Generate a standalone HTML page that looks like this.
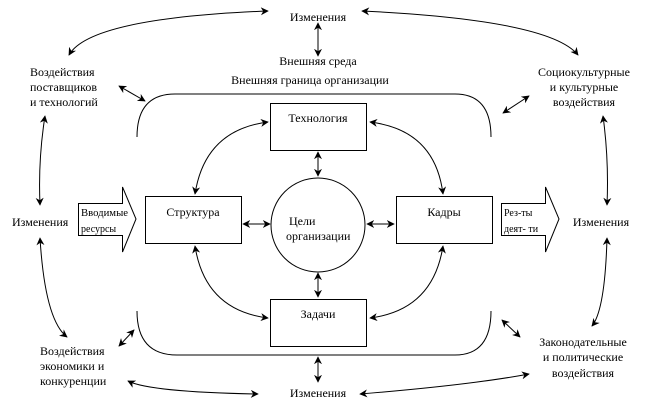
<!DOCTYPE html>
<html><head><meta charset="utf-8"><style>
html,body{margin:0;padding:0;background:#fff;}
svg{display:block;}
</style></head><body>
<svg width="647" height="408" viewBox="0 0 647 408" xmlns="http://www.w3.org/2000/svg" font-family="'Liberation Serif', 'Times New Roman', serif" font-size="12">
<defs>
<marker id="a" viewBox="0 0 10 10" refX="9" refY="5" markerWidth="8" markerHeight="8" orient="auto-start-reverse" markerUnits="userSpaceOnUse">
<path d="M0,0 L10,5 L0,10 L3,5 z" fill="#000"/>
</marker>
</defs>
<g fill="none" stroke="#000" stroke-width="1">
<path d="M137,137 Q137,94 175,94 L455,94 Q491,94 491,137"/>
<path d="M137,311 Q137,355 177,355 L455,355 Q491,355 491,311"/>
<rect x="270.5" y="103.5" width="96" height="47"/>
<rect x="145.5" y="196.5" width="96" height="47"/>
<rect x="396.5" y="196.5" width="96" height="47"/>
<rect x="270.5" y="299.5" width="96" height="47"/>
<circle cx="318" cy="225" r="47"/>
<path d="M78.5,203.5 L122.5,203.5 L122.5,187 L136,219 L122.5,252 L122.5,235.5 L78.5,235.5 Z"/>
<path d="M501.5,203.5 L545.5,203.5 L545.5,187 L559,219 L545.5,252 L545.5,235.5 L501.5,235.5 Z"/>
<g marker-start="url(#a)" marker-end="url(#a)">
<line x1="318" y1="23" x2="318" y2="56"/>
<line x1="318" y1="152" x2="318" y2="176"/>
<line x1="318" y1="273" x2="318" y2="297"/>
<line x1="318" y1="357" x2="318" y2="382"/>
<line x1="243" y1="224" x2="270" y2="224"/>
<line x1="367" y1="224" x2="394" y2="224"/>
<path d="M268,122 Q205,130 195,194"/>
<path d="M370,122 Q435,130 443,194"/>
<path d="M195,246 Q205,310 268,318"/>
<path d="M443,246 Q433,310 370,318"/>
<path d="M268,11 Q90,18 69,55"/>
<path d="M362,11 Q550,20 578,55"/>
<path d="M45,116 Q38,160 40,205"/>
<path d="M603,116 Q609,160 607,205"/>
<path d="M40,238 Q45,320 67,337"/>
<path d="M607,238 Q605,310 592,326"/>
<path d="M128,381 Q150,392 258,394"/>
<path d="M529,374 Q470,385 360,394"/>
<line x1="119" y1="86" x2="145" y2="101"/>
<line x1="529" y1="96" x2="503" y2="113"/>
<line x1="134" y1="330" x2="119" y2="346"/>
<line x1="502" y1="320" x2="520" y2="337"/>
</g>
</g>
<g fill="#000" style="font-family:'Liberation Serif','Times New Roman',serif;font-size:12px">
<g text-anchor="middle">
<text x="318" y="21">Изменения</text>
<text x="318" y="65">Внешняя среда</text>
<text x="310" y="84">Внешняя граница организации</text>
<text x="318" y="122">Технология</text>
<text x="193" y="216">Структура</text>
<text x="444" y="216">Кадры</text>
<text x="318" y="318">Задачи</text>
<text x="318" y="397">Изменения</text>
<text x="601" y="226">Изменения</text>
<text x="584" y="76">Социокультурные</text>
<text x="584" y="91">и культурные</text>
<text x="584" y="106">воздействия</text>
<text x="583" y="346">Законодательные</text>
<text x="583" y="361">и политические</text>
<text x="583" y="377">воздействия</text>
</g>
<text x="289" y="225">Цели</text>
<text x="286" y="240">организации</text>
<text x="12" y="226">Изменения</text>
<text x="30" y="76">Воздействия</text>
<text x="30" y="91">поставщиков</text>
<text x="30" y="106">и технологий</text>
<text x="40" y="355">Воздействия</text>
<text x="40" y="370">экономики и</text>
<text x="40" y="385">конкуренции</text>
<g style="font-size:10px">
<text x="81" y="216" textLength="47" lengthAdjust="spacingAndGlyphs">Вводимые</text>
<text x="81" y="232">ресурсы</text>
<text x="504" y="216">Рез-ты</text>
<text x="504" y="232">деят- ти</text>
</g>
</g>
</svg>
</body></html>
